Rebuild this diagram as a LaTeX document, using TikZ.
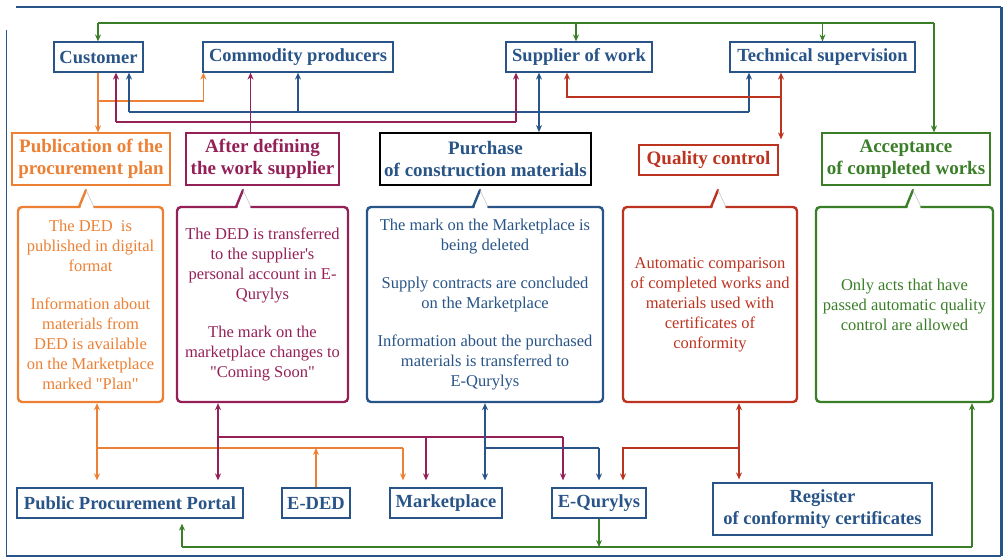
\documentclass[tikz,border=0pt]{standalone}
\usepackage{fontspec}
\setmainfont{Liberation Serif}
\usetikzlibrary{arrows.meta}
\definecolor{myblue}{RGB}{40,84,135}
\definecolor{myorange}{RGB}{236,128,52}
\definecolor{mypurple}{RGB}{148,32,88}
\definecolor{myred}{RGB}{188,52,32}
\definecolor{mygreen}{RGB}{58,126,40}
\tikzset{
  actor/.style={draw=myblue, line width=1.2pt, text=myblue, font=\fontsize{18.5}{22}\selectfont\bfseries,
    inner sep=0pt, minimum height=30pt, align=center},
  head/.style={line width=1.2pt, font=\fontsize{19}{22}\selectfont\bfseries, inner sep=0pt,
    minimum height=52pt, align=center},
  note/.style={rounded corners=4pt, line width=2.4pt, font=\fontsize{16.5}{20}\selectfont,
    inner sep=0pt, minimum height=195pt, align=center},
  wire/.style={line width=1.4pt},
  link/.style={line width=1.4pt, -{Stealth[length=7pt,width=6pt]}},
  both/.style={line width=1.4pt, {Stealth[length=7pt,width=6pt]}-{Stealth[length=7pt,width=6pt]}}
}
\begin{document}
\begin{tikzpicture}[x=1pt, y=-1pt]
  \useasboundingbox (0,0) rectangle (1005,558);
  \draw[myblue, line width=0.8pt] (6,30) -- (6,556);
  \draw[myblue, line width=1.5pt] (6,556) -- (1001,556);
  \draw[myblue, line width=2.5pt] (16,7) -- (1001,7);
  \draw[myblue, line width=3pt] (1001,7) -- (1001,556);

  \node[actor, minimum width=89pt] (cust) at (98.5,57) {Customer};
  \node[actor, minimum width=190pt] (prod) at (298,57) {Commodity producers};
  \node[actor, minimum width=146pt] (supp) at (579,57) {Supplier of work};
  \node[actor, minimum width=185pt] (tech) at (822.5,57) {Technical supervision};

  \node[head, draw=myorange, text=myorange, minimum width=158pt] (pub) at (91,159) {Publication of the\\procurement plan};
  \node[head, draw=mypurple, text=mypurple, minimum width=153pt] (after) at (262.5,159) {After defining\\the work supplier};
  \node[head, draw=black, text=myblue, line width=1.8pt, minimum width=211pt] (purch) at (485.5,159) {Purchase\\of construction materials};
  \node[head, draw=myred, text=myred, minimum width=139pt, minimum height=30pt] (qual) at (708.5,160) {Quality control};
  \node[head, draw=mygreen, text=mygreen, minimum width=168pt] (accept) at (906,159) {Acceptance\\of completed works};

  \node[note, draw=myorange, text=myorange, minimum width=145pt] (n1) at (90.5,304.5) {The DED\ \ is\\published in digital\\format\\[18pt]Information about\\materials from\\DED is available\\on the Marketplace\\marked \textquotedbl Plan\textquotedbl};
  \node[note, draw=mypurple, text=mypurple, minimum width=171pt] (n2) at (262.5,304.5) {The DED is transferred\\to the supplier\textquotesingle s\\personal account in E-\\Qurylys\\[18pt]The mark on the\\marketplace changes to\\\textquotedbl Coming Soon\textquotedbl};
  \node[note, draw=myblue, text=myblue, minimum width=236pt] (n3) at (485,304.5) {The mark on the Marketplace is\\being deleted\\[18pt]Supply contracts are concluded\\on the Marketplace\\[18pt]Information about the purchased\\materials is transferred to\\E-Qurylys};
  \node[note, draw=myred, text=myred, minimum width=174pt] (n4) at (710,304.5) {Automatic comparison\\of completed works and\\materials used with\\certificates of\\conformity};
  \node[note, draw=mygreen, text=mygreen, minimum width=177pt] (n5) at (904.5,304.5) {Only acts that have\\passed automatic quality\\control are allowed};

  \foreach \x/\c in {86/myorange, 243/mypurple, 480/myblue, 718/myred, 913/mygreen} {
    \fill[white] (\x-6,209) -- (\x,190) -- (\x+8,209) -- cycle;
    \draw[\c, line width=2.4pt, line cap=round] (\x-7,207) -- (\x,190);
    \draw[gray!50, line width=0.5pt] (\x,190) -- (\x+8,207);
  }

  \node[actor, minimum width=226pt] (ppp) at (130,503) {Public Procurement Portal};
  \node[actor, minimum width=68pt] (eded) at (316,503) {E-DED};
  \node[actor, minimum width=112pt] (mkt) at (446,503) {Marketplace};
  \node[actor, minimum width=94pt] (eq) at (599,503) {E-Qurylys};
  \node[actor, minimum width=219pt, minimum height=52pt] (reg) at (822.5,509) {Register\\of conformity certificates};

  \coordinate (gl) at (98,23);
  \coordinate (gr) at (934,23);
  \draw[wire, mygreen] (gl) -- (gr);
  \draw[link, mygreen] (gl) -- (gl |- cust.north);
  \draw[link, mygreen] ([xshift=-3pt]supp.north |- gl) -- ([xshift=-3pt]supp.north);
  \draw[link, mygreen] (tech.north |- gl) -- (tech.north);
  \draw[link, mygreen] (gr) -- (gr |- accept.north);

  \coordinate (o1) at (98,101);
  \draw[link, myorange] (cust.south -| o1) -- (o1 |- pub.north);
  \draw[link, myorange] (o1) -| ([xshift=1pt]prod.south west);

  \coordinate (b1) at (129,112);
  \coordinate (b2) at (749,112);
  \draw[wire, myblue] (b1) -- (b2);
  \draw[link, myblue] (b1) -- (b1 |- cust.south);
  \draw[link, myblue] (prod.south |- b1) -- (prod.south);
  \draw[link, myblue] (b2) -- (b2 |- tech.south);
  \draw[both, myblue] ([xshift=-40pt]supp.south) -- ([xshift=-40pt]supp.south |- purch.north);

  \coordinate (p1) at (116,122);
  \coordinate (p2) at (516,122);
  \draw[wire, mypurple] (p1) -- (p2);
  \draw[link, mypurple] (p1) -- (p1 |- cust.south);
  \draw[link, mypurple] (p2) -- (p2 |- supp.south);
  \draw[link, mypurple] ([xshift=-12pt]after.north) -- ([xshift=-12pt]after.north |- prod.south);

  \coordinate (r1) at (781,97);
  \draw[both, myred, shorten >=5pt] (r1 |- tech.south) -- (r1 |- qual.north);
  \draw[link, myred] (r1) -| ([xshift=-12pt]supp.south);

  \coordinate (o2) at (97,448);
  \coordinate (o3) at (403,448);
  \draw[both, myorange, shorten >=7pt] (o2 |- n1.south) -- (o2 |- ppp.north);
  \draw[wire, myorange] (o2) -- (o3);
  \draw[link, myorange, shorten >=7pt] (o3) -- (o3 |- mkt.north);
  \draw[link, myorange] (eded.north) -- (eded.north |- o2);

  \coordinate (u1) at (218,437);
  \coordinate (u2) at (563,437);
  \coordinate (u3) at (426,437);
  \draw[both, mypurple, shorten >=7pt] (u1 |- n2.south) -- (u1 |- ppp.north);
  \draw[wire, mypurple] (u1) -- (u2);
  \draw[link, mypurple, shorten >=7pt] (u2) -- (u2 |- eq.north);
  \draw[link, mypurple, shorten >=7pt] (u3) -- (u3 |- mkt.north);

  \coordinate (c1) at (485,448);
  \coordinate (c2) at (599,448);
  \draw[both, myblue, shorten >=7pt] (c1 |- n3.south) -- (c1 |- mkt.north);
  \draw[wire, myblue] (c1) -- (c2);
  \draw[link, myblue, shorten >=7pt] (c2) -- (c2 |- eq.north);

  \coordinate (e1) at (739,448);
  \coordinate (e2) at (623,448);
  \draw[both, myred, shorten >=3pt] (e1 |- n4.south) -- (e1 |- reg.north);
  \draw[link, myred, shorten >=7pt] (e1) -| (e2 |- eq.north);

  \coordinate (g3) at (182,547);
  \coordinate (g4) at (972,547);
  \draw[wire, mygreen] (g3) -- (g4);
  \draw[link, mygreen] (eq.south) -- (eq.south |- g3);
  \draw[link, mygreen, shorten >=5pt] (g3) -- (g3 |- ppp.south);
  \draw[link, mygreen] (g4) -- (g4 |- n5.south);
\end{tikzpicture}
\end{document}
